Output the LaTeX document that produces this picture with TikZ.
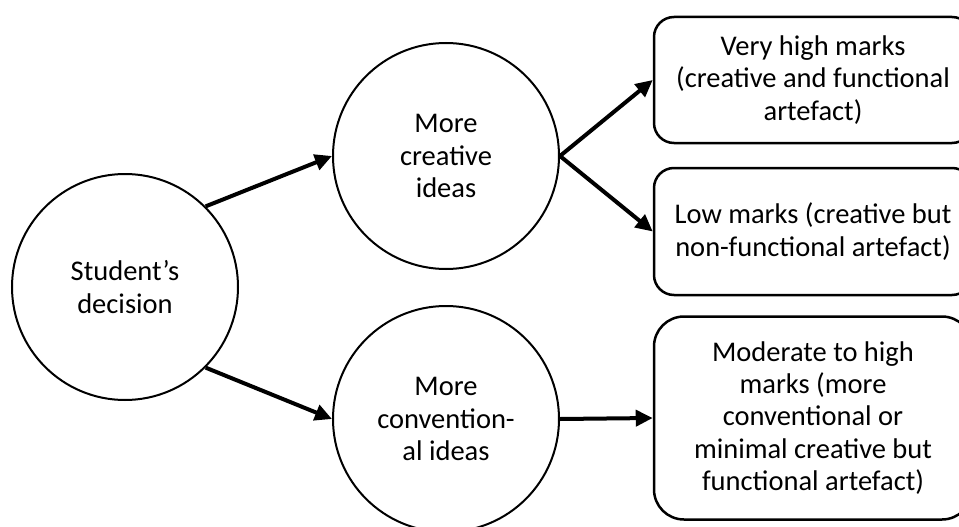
\documentclass[tikz,border=0pt]{standalone}
\usepackage{fontspec}
\setmainfont{Carlito}
\usetikzlibrary{arrows.meta}
\begin{document}
\begin{tikzpicture}[x=1pt,y=1pt,
  txt/.style={font=\fontsize{28.5}{32.3}\selectfont, align=center},
  circ/.style={txt, circle, draw, line width=2pt, minimum size=226pt, inner sep=0pt},
  rbox/.style={txt, draw, rounded corners=20pt, line width=2.5pt, minimum width=318pt, inner sep=0pt},
  arr/.style={line width=4pt, -{Triangle[length=17pt,width=16pt]}}]
\useasboundingbox (0,0) rectangle (959,-527);
\node[circ] (stu) at (125,-287) {Student’s\\decision};
\node[circ] (cre) at (446,-156) {More\\creative\\ideas};
\node[circ] (con) at (446,-419) {More\\convention-\\al ideas};
\node[rbox, minimum height=126pt] (b1) at (813,-80) {Very high marks\\(creative and functional\\artefact)};
\node[rbox, minimum height=127pt] (b2) at (813,-231.5) {Low marks (creative but\\non-functional artefact)};
\node[rbox, minimum height=203pt, rounded corners=30pt] (b3) at (813,-418) {Moderate to high\\marks (more\\conventional or\\minimal creative but\\functional artefact)};
\draw[arr] (stu.45) -- (cre.west);
\draw[arr] (stu.-45) -- (con.west);
\draw[arr] (cre.east) -- (b1.west);
\draw[arr] (cre.east) -- (b2.west);
\draw[arr] (con.east) -- (b3.west);
\end{tikzpicture}
\end{document}
